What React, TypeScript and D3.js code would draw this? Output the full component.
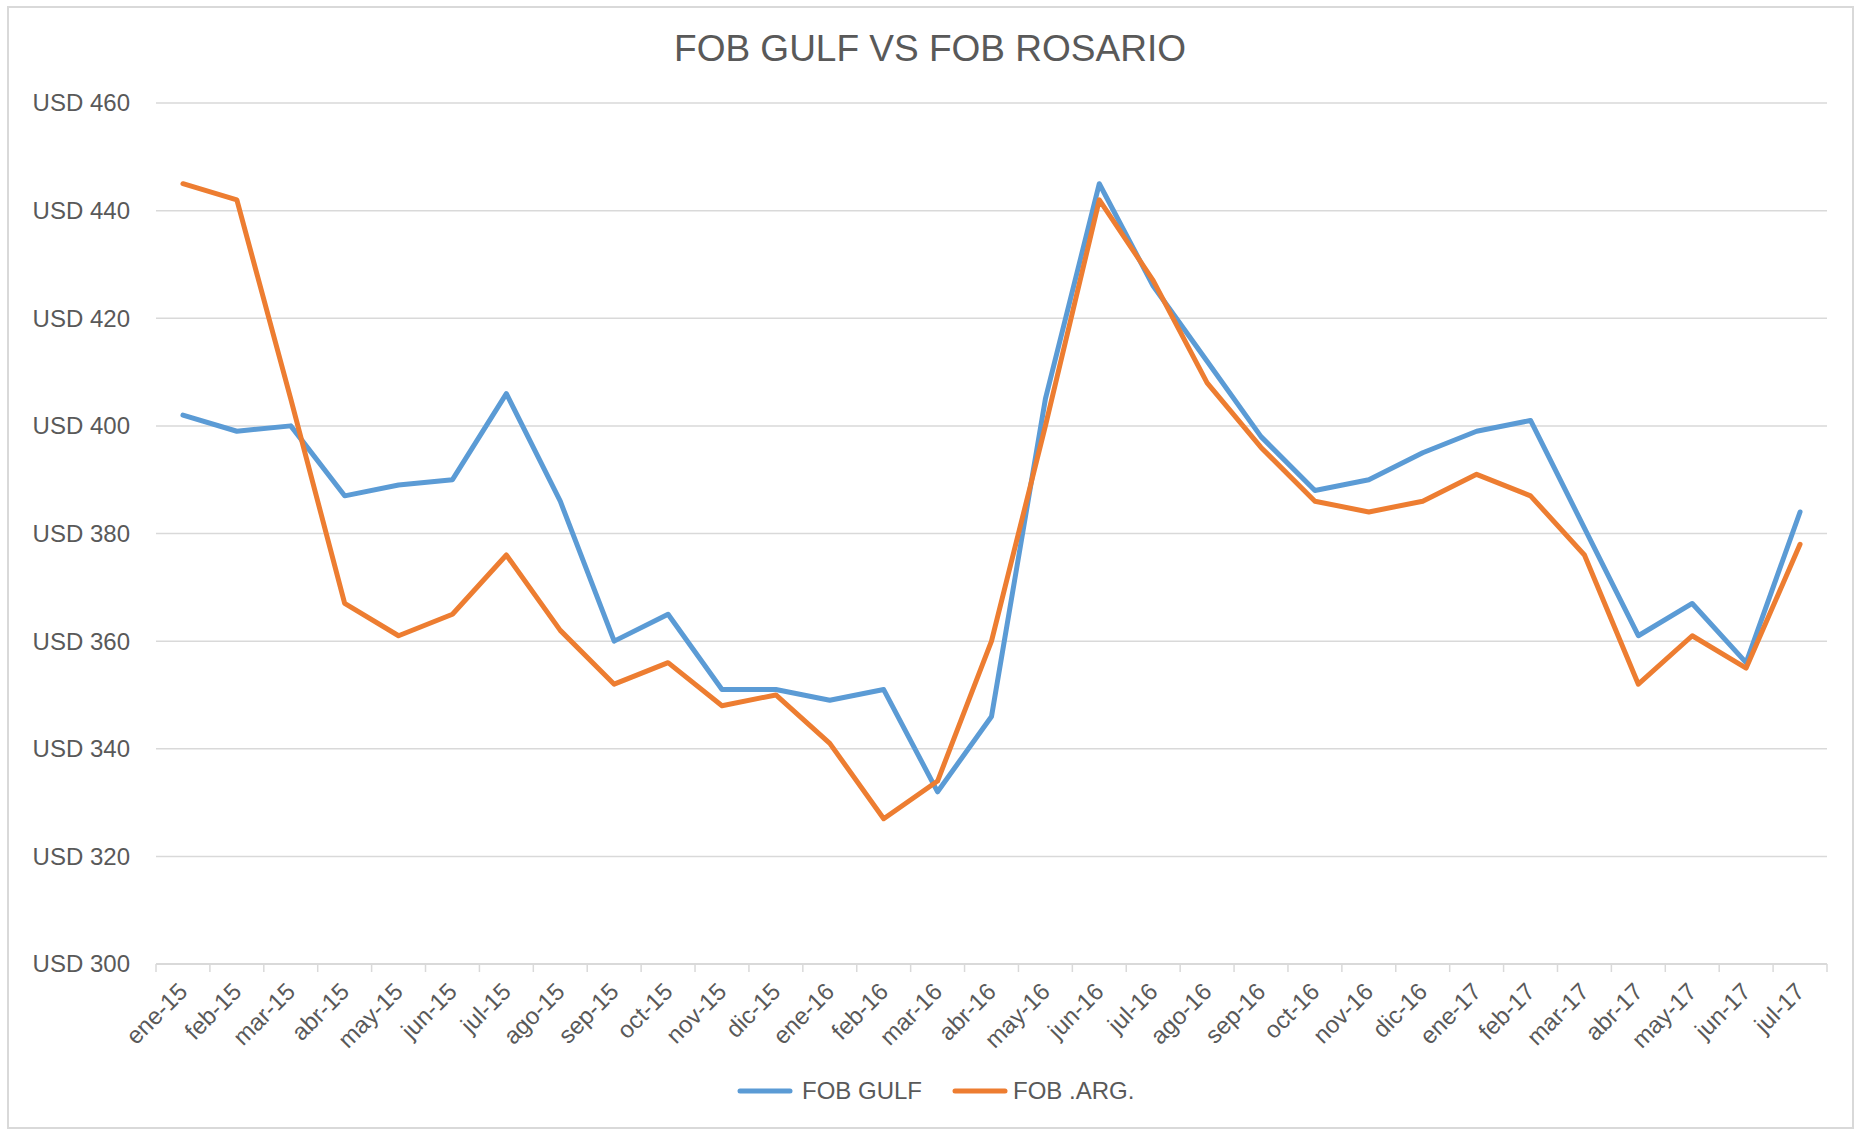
import * as d3 from 'd3';

const months = [
  'ene-15', 'feb-15', 'mar-15', 'abr-15', 'may-15', 'jun-15', 'jul-15', 'ago-15',
  'sep-15', 'oct-15', 'nov-15', 'dic-15', 'ene-16', 'feb-16', 'mar-16', 'abr-16',
  'may-16', 'jun-16', 'jul-16', 'ago-16', 'sep-16', 'oct-16', 'nov-16', 'dic-16',
  'ene-17', 'feb-17', 'mar-17', 'abr-17', 'may-17', 'jun-17', 'jul-17',
];

const fobGulf = [
  402, 399, 400, 387, 389, 390, 406, 386, 360, 365, 351, 351, 349, 351, 332, 346,
  405, 445, 426, 412, 398, 388, 390, 395, 399, 401, 381, 361, 367, 356, 384,
];

const fobArg = [
  445, 442, 405, 367, 361, 365, 376, 362, 352, 356, 348, 350, 341, 327, 334, 360,
  400, 442, 427, 408, 396, 386, 384, 386, 391, 387, 376, 352, 361, 355, 378,
];

const yTicks = [300, 320, 340, 360, 380, 400, 420, 440, 460];

const seriesNames = ['FOB GULF', 'FOB .ARG.'];
const seriesColors = ['#5B9BD5', '#ED7D31'];

const W = 1855;
const H = 1131;
const plot = { left: 156, right: 1827, top: 103, bottom: 964 };
const FONT = 'Liberation Sans, Arial, sans-serif';
const TEXT = '#595959';
const GRID = '#D9D9D9';

export default function App() {
  const x = d3.scaleBand<string>().domain(months).range([plot.left, plot.right]);
  const y = d3.scaleLinear().domain([300, 460]).range([plot.bottom, plot.top]);
  const cx = (m: string) => (x(m) ?? 0) + x.bandwidth() / 2;

  const line = d3
    .line<number>()
    .x((_, i) => cx(months[i]))
    .y((d) => y(d));

  const series = [fobGulf, fobArg];
  const boundaries = months.map((m) => x(m) ?? 0).concat([plot.right]);

  return (
    <div style={{ position: 'absolute', left: 0, top: 0 }}>
      <svg width={W} height={H} style={{ display: 'block', background: '#fff' }}>
        <rect x={8} y={7} width={1845} height={1121} fill="#fff" stroke={GRID} strokeWidth={2} />

        <text
          x={930}
          y={61}
          textAnchor="middle"
          fontFamily={FONT}
          fontSize={37}
          fill={TEXT}
        >
          FOB GULF VS FOB ROSARIO
        </text>

        {/* gridlines + y labels */}
        {yTicks.map((t) => (
          <g key={t}>
            {t !== 300 && (
              <line x1={plot.left} x2={plot.right} y1={y(t)} y2={y(t)} stroke={GRID} strokeWidth={1.5} />
            )}
            <text
              x={130}
              y={y(t)}
              dy="0.35em"
              textAnchor="end"
              fontFamily={FONT}
              fontSize={24}
              fill={TEXT}
            >
              {`USD ${t}`}
            </text>
          </g>
        ))}

        {/* x axis */}
        <line x1={plot.left} x2={plot.right} y1={plot.bottom} y2={plot.bottom} stroke={GRID} strokeWidth={2} />
        {boundaries.map((b, i) => (
          <line key={i} x1={b} x2={b} y1={plot.bottom} y2={plot.bottom + 8} stroke={GRID} strokeWidth={1.5} />
        ))}
        {months.map((m) => {
          const tx = cx(m) + 6;
          const ty = plot.bottom + 29;
          return (
            <text
              key={m}
              x={tx}
              y={ty}
              textAnchor="end"
              transform={`rotate(-45, ${tx}, ${ty})`}
              fontFamily={FONT}
              fontSize={24}
              fill={TEXT}
            >
              {m}
            </text>
          );
        })}

        {/* lines */}
        {series.map((s, i) => (
          <path
            key={seriesNames[i]}
            d={line(s) ?? ''}
            fill="none"
            stroke={seriesColors[i]}
            strokeWidth={5}
            strokeLinejoin="round"
            strokeLinecap="round"
          />
        ))}

        {/* legend */}
        {seriesNames.map((name, i) => {
          const lx = i === 0 ? 740 : 955;
          const gap = i === 0 ? 62 : 58;
          return (
            <g key={name}>
              <line x1={lx} x2={lx + 50} y1={1091} y2={1091} stroke={seriesColors[i]} strokeWidth={5} strokeLinecap="round" />
              <text x={lx + gap} y={1091} dy="0.35em" fontFamily={FONT} fontSize={24} fill={TEXT}>
                {name}
              </text>
            </g>
          );
        })}
      </svg>
    </div>
  );
}
